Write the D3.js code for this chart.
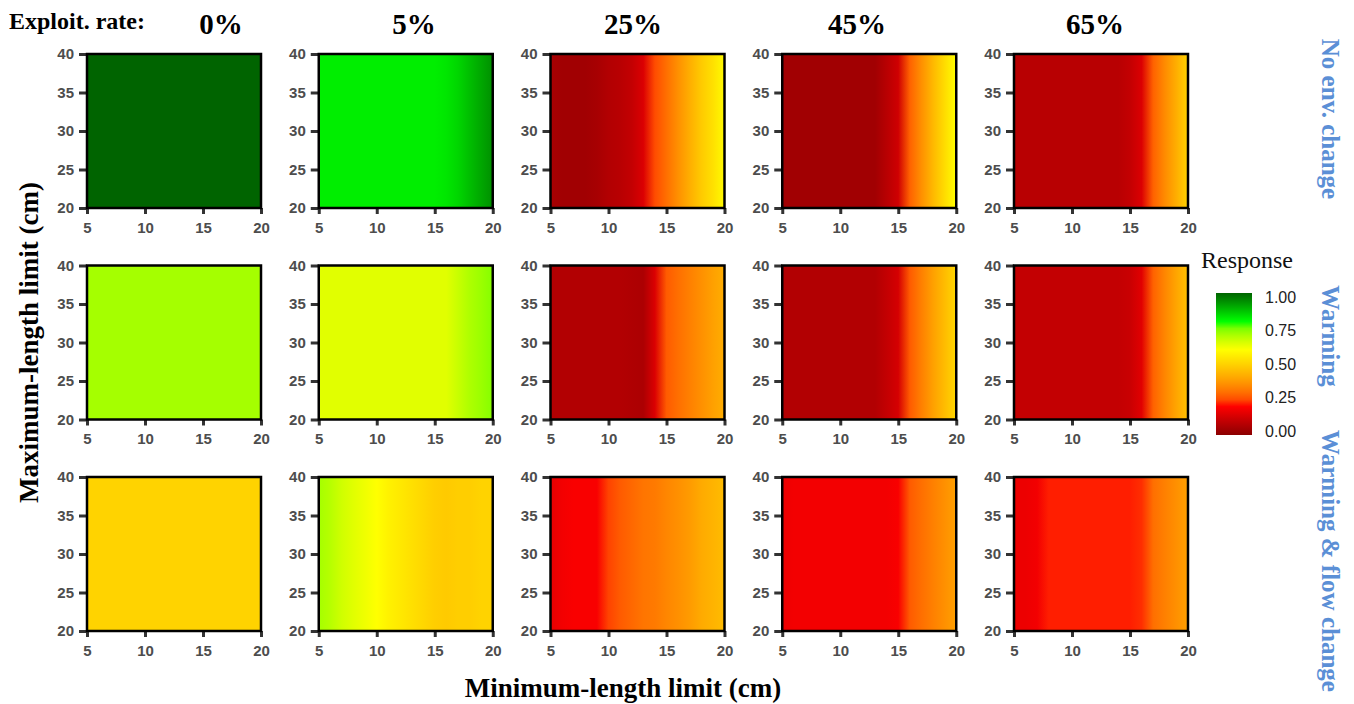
<!DOCTYPE html>
<html>
<head>
<meta charset="utf-8">
<script src="https://cdn.jsdelivr.net/npm/d3@7"></script>
<style>
  html, body { margin: 0; padding: 0; background: #fff; }
  svg { display: block; }
</style>
</head>
<body>
<svg id="chart" width="1354" height="704"></svg>
<script>
// ---------------- DATA ----------------
const exploitRates = ["0%", "5%", "25%", "45%", "65%"];
const scenarios = ["No env. change", "Warming", "Warming & flow change"];
const minLength = [5, 6, 7, 8, 9, 10, 11, 12, 13, 14, 15, 16, 17, 18, 19, 20];
const maxLengthRange = [20, 40];
const xTicks = [5, 10, 15, 20];
const yTicks = [20, 25, 30, 35, 40];
const legendTicks = [0, 0.25, 0.5, 0.75, 1];
const colorStops = [0, 0.2, 0.4, 0.6, 0.8, 1];
const colorPalette = ["#8B0000", "#FF0000", "#FFA500", "#FFFF00", "#00FF00", "#006400"];

// Response along minimum-length limit (constant along maximum-length limit)
// Row 1: No env. change
const noChange_0  = [1.00,1.00,1.00,1.00,1.00,1.00,1.00,1.00,1.00,1.00,1.00,1.00,1.00,1.00,1.00,1.00];
const noChange_5  = [0.82,0.82,0.82,0.82,0.82,0.82,0.82,0.82,0.82,0.82,0.82,0.83,0.85,0.88,0.91,0.94];
const noChange_25 = [0.05,0.04,0.04,0.04,0.05,0.07,0.08,0.10,0.14,0.25,0.30,0.36,0.42,0.48,0.53,0.59];
const noChange_45 = [0.04,0.04,0.04,0.04,0.04,0.04,0.04,0.04,0.04,0.08,0.12,0.28,0.36,0.44,0.52,0.60];
const noChange_65 = [0.08,0.08,0.08,0.08,0.08,0.08,0.08,0.08,0.08,0.08,0.10,0.14,0.28,0.35,0.42,0.50];
// Row 2: Warming
const warm_0  = [0.71,0.71,0.71,0.71,0.71,0.71,0.71,0.71,0.71,0.71,0.71,0.71,0.71,0.71,0.71,0.71];
const warm_5  = [0.64,0.64,0.64,0.64,0.64,0.64,0.64,0.64,0.64,0.64,0.64,0.64,0.67,0.70,0.72,0.74];
const warm_25 = [0.07,0.07,0.07,0.07,0.07,0.07,0.07,0.065,0.06,0.14,0.27,0.30,0.33,0.36,0.39,0.42];
const warm_45 = [0.07,0.07,0.07,0.07,0.07,0.07,0.07,0.07,0.07,0.10,0.13,0.27,0.33,0.39,0.45,0.51];
const warm_65 = [0.10,0.10,0.10,0.10,0.10,0.10,0.10,0.10,0.10,0.10,0.11,0.15,0.28,0.34,0.40,0.46];
// Row 3: Warming & flow change
const flow_0  = [0.50,0.50,0.50,0.50,0.50,0.50,0.50,0.50,0.50,0.50,0.50,0.50,0.50,0.50,0.50,0.50];
const flow_5  = [0.71,0.69,0.66,0.64,0.62,0.60,0.57,0.55,0.53,0.51,0.49,0.48,0.49,0.49,0.50,0.50];
const flow_25 = [0.16,0.18,0.19,0.19,0.19,0.24,0.27,0.29,0.31,0.32,0.34,0.36,0.38,0.41,0.43,0.45];
const flow_45 = [0.17,0.18,0.18,0.18,0.18,0.18,0.18,0.18,0.18,0.18,0.19,0.27,0.30,0.33,0.36,0.39];
const flow_65 = [0.17,0.17,0.18,0.21,0.21,0.21,0.21,0.21,0.21,0.21,0.21,0.22,0.30,0.33,0.36,0.39];

const panelRows = [
  [noChange_0, noChange_5, noChange_25, noChange_45, noChange_65],
  [warm_0, warm_5, warm_25, warm_45, warm_65],
  [flow_0, flow_5, flow_25, flow_45, flow_65]
];

// ---------------- LAYOUT ----------------
const svg = d3.select("#chart");
const left0 = 87, colStep = 231.75, top0 = 54, rowStep = 211.5;
const pw = 174, ph = 154;
const headerX = [221, 414, 633, 857, 1095];
const rowLabelY = [119, 336, 561];
const serif = "'Liberation Serif', 'Times New Roman', serif";
const sans = "'Liberation Sans', Arial, sans-serif";

const color = d3.scaleLinear().domain(colorStops).range(colorPalette)
  .interpolate(d3.interpolateLab).clamp(true);

const x = d3.scaleLinear().domain([minLength[0], minLength[minLength.length - 1]]).range([0, pw]);
const y = d3.scaleLinear().domain(maxLengthRange).range([ph, 0]);

const defs = svg.append("defs");

panelRows.forEach((row, r) => {
  row.forEach((vals, c) => {
    const gid = `grad-${r}-${c}`;
    const grad = defs.append("linearGradient").attr("id", gid)
      .attr("x1", 0).attr("x2", 1).attr("y1", 0).attr("y2", 0);
    grad.selectAll("stop").data(minLength).join("stop")
      .attr("offset", d => x(d) / pw)
      .attr("stop-color", (d, i) => color(vals[i]));

    const g = svg.append("g")
      .attr("transform", `translate(${left0 + c * colStep},${top0 + r * rowStep})`);

    g.append("rect")
      .attr("x", x(minLength[0])).attr("y", y(maxLengthRange[1]))
      .attr("width", x(minLength[minLength.length - 1]) - x(minLength[0]))
      .attr("height", y(maxLengthRange[0]) - y(maxLengthRange[1]))
      .attr("fill", `url(#${gid})`);

    const xa = g.append("g").attr("transform", `translate(0,${ph})`)
      .call(d3.axisBottom(x).tickValues(xTicks).tickSize(6).tickPadding(8));
    const ya = g.append("g")
      .call(d3.axisLeft(y).tickValues(yTicks).tickSize(8).tickPadding(5));
    [xa, ya].forEach(a => {
      a.select(".domain").remove();
      a.selectAll(".tick line").attr("stroke", "#333").attr("stroke-width", 3);
      a.selectAll(".tick text")
        .attr("font-family", sans).attr("font-weight", "bold")
        .attr("font-size", 15).attr("fill", "#4d4d4d");
    });

    g.append("rect")
      .attr("x", 0).attr("y", 0).attr("width", pw).attr("height", ph)
      .attr("fill", "none").attr("stroke", "#000").attr("stroke-width", 2.5);
  });
});

// Column headers
svg.append("text").attr("x", 9).attr("y", 29)
  .attr("font-family", serif).attr("font-weight", "bold").attr("font-size", 24)
  .text("Exploit. rate:");
svg.selectAll("text.colhead").data(exploitRates).join("text")
  .attr("class", "colhead")
  .attr("x", (d, i) => headerX[i])
  .attr("y", 34)
  .attr("text-anchor", "middle")
  .attr("font-family", serif).attr("font-weight", "bold").attr("font-size", 29)
  .text(d => d);

// Row labels (right)
svg.selectAll("text.rowlab").data(scenarios).join("text")
  .attr("class", "rowlab")
  .attr("transform", (d, i) => `translate(1322,${rowLabelY[i]}) rotate(90)`)
  .attr("text-anchor", "middle")
  .attr("font-family", serif).attr("font-weight", "bold").attr("font-size", 25)
  .attr("fill", "#5b8fd6")
  .text(d => d);

// Axis titles
svg.append("text")
  .attr("transform", `translate(38,${top0 + rowStep + ph / 2}) rotate(-90)`)
  .attr("text-anchor", "middle")
  .attr("font-family", serif).attr("font-weight", "bold").attr("font-size", 27)
  .text("Maximum-length limit (cm)");
svg.append("text")
  .attr("x", 623).attr("y", 697)
  .attr("text-anchor", "middle")
  .attr("font-family", serif).attr("font-weight", "bold").attr("font-size", 27)
  .text("Minimum-length limit (cm)");

// Legend
const legX = 1216, legW = 36, legTop = 293, legBot = 435;
const ly = d3.scaleLinear().domain([0, 1]).range([431, 297]);
const lg = defs.append("linearGradient").attr("id", "leggrad")
  .attr("x1", 0).attr("x2", 0).attr("y1", 1).attr("y2", 0);
const legSamples = d3.range(0, 1.0001, 0.05);
lg.selectAll("stop").data(legSamples).join("stop")
  .attr("offset", d => d)
  .attr("stop-color", d => color(d));
svg.append("rect").attr("x", legX).attr("y", legTop)
  .attr("width", legW).attr("height", legBot - legTop)
  .attr("fill", "url(#leggrad)");
svg.append("text").attr("x", 1201).attr("y", 268)
  .attr("font-family", serif).attr("font-size", 24).attr("fill", "#111")
  .text("Response");
svg.selectAll("text.legtick").data(legendTicks).join("text")
  .attr("class", "legtick")
  .attr("x", 1265).attr("y", d => ly(d))
  .attr("dy", "0.35em")
  .attr("font-family", sans).attr("font-size", 16).attr("fill", "#222")
  .text(d => d3.format(".2f")(d));
</script>
</body>
</html>
